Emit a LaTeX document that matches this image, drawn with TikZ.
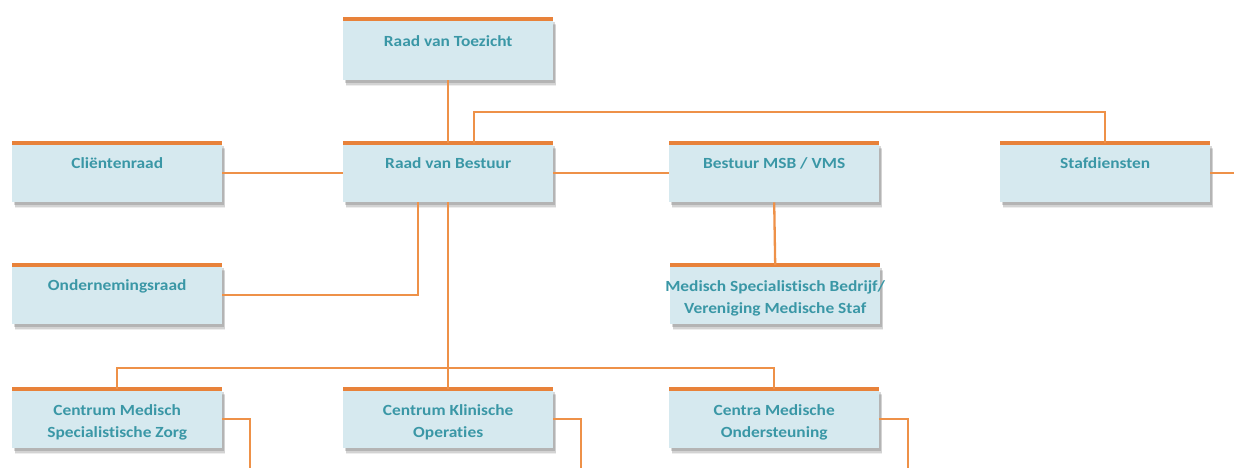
\documentclass[tikz,border=0pt]{standalone}
\usepackage{fontspec}
\setmainfont{Carlito}[FakeStretch=1.12, Ligatures={NoCommon}]
\usetikzlibrary{shadows,calc}
\definecolor{boxfill}{HTML}{D6E9EF}
\definecolor{boxtext}{HTML}{3A97A6}
\definecolor{barorange}{HTML}{E8823A}
\definecolor{lineorange}{HTML}{EE9148}
\newcommand{\bt}[1]{\parbox[c][59pt][t]{210pt}{\centering\fontsize{15.5}{22}\selectfont\bfseries\rule{0pt}{25pt}#1}}
\newcommand{\btt}[2]{\parbox[c][59pt][t]{210pt}{\fontsize{15.5}{22}\selectfont\bfseries\rule{0pt}{26pt}\makebox[210pt]{#1}\\\makebox[210pt]{#2}}}
\tikzset{
  orgbox/.style={rectangle, inner sep=0pt, anchor=north west, fill=boxfill, text=boxtext,
    drop shadow={shadow xshift=3pt, shadow yshift=-6pt, opacity=0.07, fill=black},
    drop shadow={shadow xshift=2.5pt, shadow yshift=-4.5pt, opacity=0.11, fill=black},
    drop shadow={shadow xshift=1.5pt, shadow yshift=-3pt, opacity=0.15, fill=black},
    append after command={(\tikzlastnode.north west) edge[draw=barorange, line width=3.4pt]
      (\tikzlastnode.north east)}},
  conn/.style={draw=lineorange, line width=2.3pt}
}
\begin{document}
\begin{tikzpicture}[x=1pt, y=-1pt]
\useasboundingbox (0,0) rectangle (1234,468);
% coordinates for connector bends and free ends
\coordinate (j1) at (474,112);
\coordinate (bus) at (448,368);
\coordinate (e1) at (1234,175);
\coordinate (d1) at (250,468);
\coordinate (d2) at (581,468);
\coordinate (d3) at (908,468);
\coordinate (k1) at (418,202);
% boxes
\node[orgbox] (rvt) at (343,19) {\parbox[c][61pt][t]{210pt}{\centering\fontsize{15.5}{22}\selectfont\bfseries\rule{0pt}{27pt}Raad van Toezicht}};
\node[orgbox] (cr) at (12,143) {\bt{Cliëntenraad}};
\node[orgbox] (rvb) at (343,143) {\bt{Raad van Bestuur}};
\node[orgbox] (msb) at (669,143) {\bt{Bestuur MSB / VMS}};
\node[orgbox] (staf) at (1000,143) {\bt{Stafdiensten}};
\node[orgbox] (ond) at (12,265) {\bt{Ondernemingsraad}};
\node[orgbox] (mvs) at (670,265) {\btt{Medisch Specialistisch Bedrijf/}{Vereniging Medische Staf}};
\node[orgbox] (cms) at (12,389) {\btt{Centrum Medisch}{Specialistische Zorg}};
\node[orgbox] (cko) at (343,389) {\btt{Centrum Klinische}{Operaties}};
\node[orgbox] (cmo) at (669,389) {\btt{Centra Medische}{Ondersteuning}};
% connectors
\draw[conn] (rvt.south) -- (rvb.north);
\draw[conn] (cr.east) -- (rvb.west);
\draw[conn] (rvb.east) -- (msb.west);
\draw[conn] (rvb.north -| j1) -- (j1) -| (staf.north);
\draw[conn] (staf.east) -- (staf.east -| e1);
\draw[conn] (ond.east) -| (k1);
\draw[conn] (msb.south) -- (mvs.north);
\draw[conn] (rvb.south) -- (cko.north);
\draw[conn] (cms.north) |- (bus) -| (cmo.north);
\draw[conn] (cms.east) -| (d1);
\draw[conn] (cko.east) -| (d2);
\draw[conn] (cmo.east) -| (d3);
\end{tikzpicture}
\end{document}
